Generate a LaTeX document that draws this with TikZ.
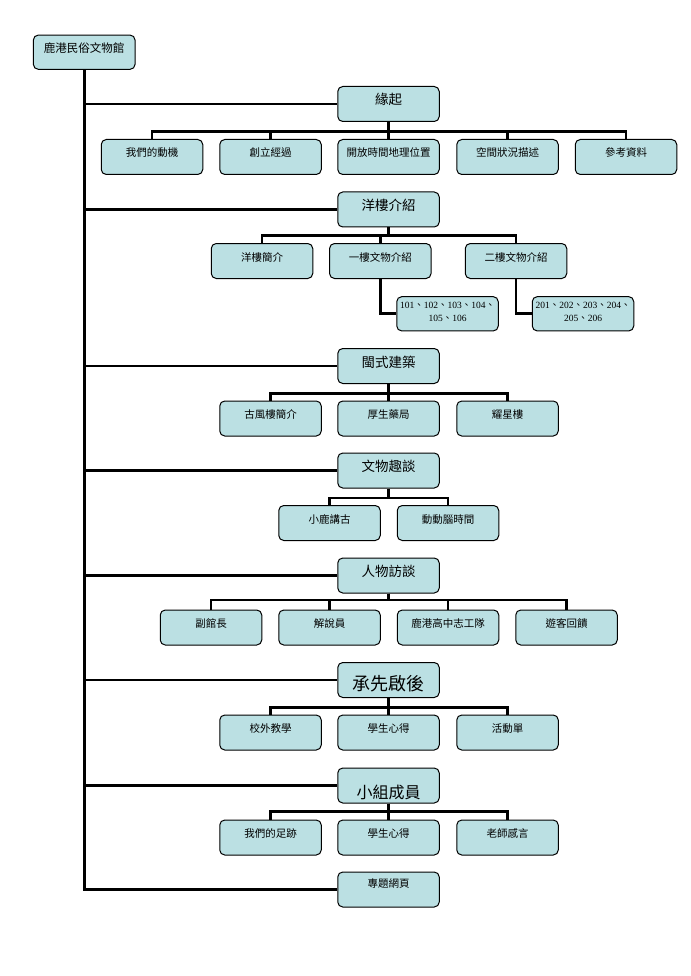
\documentclass[tikz,border=0pt]{standalone}
\usepackage{fontspec}
\setmainfont{Noto Sans CJK TC}
\newfontfamily\cjkfont{Noto Sans CJK TC}
\newfontfamily\serfont{Liberation Serif}
\definecolor{boxfill}{RGB}{187,224,227}
\tikzset{
  bx/.style={draw=black, fill=boxfill, rounded corners=5pt, line width=1pt, inner sep=0pt},
  conn/.style={line width=2.8pt, draw=black},
}
\newcommand{\cb}[1]{\parbox[c][35pt][t]{101.5pt}{\centering\fontsize{10.5}{12}\selectfont\rule{0pt}{17.5pt}#1}}
\newcommand{\pb}[1]{\parbox[c][35pt][t]{101.5pt}{\centering\fontsize{13.5}{15}\selectfont\rule{0pt}{18.5pt}#1}}
\newcommand{\dn}{{\cjkfont 、}}
\newcommand{\subbx}[1]{\parbox[c][34.3pt][t]{101.5pt}{\centering\serfont\fontsize{9.5}{13.3}\selectfont\rule{0pt}{11.5pt}#1}}
\begin{document}
\begin{tikzpicture}[x=1pt,y=-1pt]
\fill[white] (0,0) rectangle (690,976);
\useasboundingbox (0,0) rectangle (690,976);

% root
\node[bx] (root) at (84.2,52.2) {\parbox[c][34.3pt][t]{101.7pt}{\centering\fontsize{11.5}{13}\selectfont\rule{0pt}{17.7pt}鹿港民俗文物館}};

% parents
\node[bx] (p1) at (388.5,104) {\pb{緣起}};
\node[bx] (p2) at (388.5,209.5) {\pb{洋樓介紹}};
\node[bx] (p3) at (388.5,366) {\pb{閩式建築}};
\node[bx] (p4) at (388.5,470.5) {\pb{文物趣談}};
\node[bx] (p5) at (388.5,575.5) {\pb{人物訪談}};
\node[bx] (p6) at (388.5,680) {\parbox[c][35pt][t]{101.5pt}{\centering\fontsize{18}{20}\selectfont\rule{0pt}{28pt}承先啟後}};
\node[bx] (p7) at (388.5,785.5) {\parbox[c][35pt][t]{101.5pt}{\centering\fontsize{16}{18}\selectfont\rule{0pt}{30pt}小組成員}};
\node[bx] (p8) at (388.5,889.5) {\parbox[c][35pt][t]{101.5pt}{\centering\fontsize{10.5}{12}\selectfont\rule{0pt}{15pt}專題網頁}};

% row 1
\node[bx] (c11) at (152,157) {\cb{我們的動機}};
\node[bx] (c12) at (270.5,157) {\cb{創立經過}};
\node[bx] (c13) at (388.5,157) {\cb{開放時間地理位置}};
\node[bx] (c14) at (507.5,157) {\cb{空間狀況描述}};
\node[bx] (c15) at (626,157) {\cb{參考資料}};

% row 2
\node[bx] (c21) at (262,261) {\cb{洋樓簡介}};
\node[bx] (c22) at (380.3,261) {\cb{一樓文物介紹}};
\node[bx] (c23) at (516,261) {\cb{二樓文物介紹}};
\node[bx] (s1) at (447.5,313.8) {\subbx{101\dn102\dn103\dn104\dn\\105\dn106}};
\node[bx] (s2) at (583,313.8) {\subbx{201\dn202\dn203\dn204\dn\\205\dn206}};

% row 3
\node[bx] (c31) at (270.5,418.5) {\cb{古風樓簡介}};
\node[bx] (c32) at (388.5,418.5) {\cb{厚生藥局}};
\node[bx] (c33) at (507.5,418.5) {\cb{耀星樓}};

% row 4
\node[bx] (c41) at (329.5,523) {\cb{小鹿講古}};
\node[bx] (c42) at (448,523) {\cb{動動腦時間}};

% row 5
\node[bx] (c51) at (211,627.5) {\cb{副館長}};
\node[bx] (c52) at (329.5,627.5) {\cb{解說員}};
\node[bx] (c53) at (448,627.5) {\cb{鹿港高中志工隊}};
\node[bx] (c54) at (566.5,627.5) {\cb{遊客回饋}};

% row 6
\node[bx] (c61) at (270.5,732.5) {\cb{校外教學}};
\node[bx] (c62) at (388.5,732.5) {\cb{學生心得}};
\node[bx] (c63) at (507.5,732.5) {\cb{活動單}};

% row 7
\node[bx] (c71) at (270.5,837.5) {\cb{我們的足跡}};
\node[bx] (c72) at (388.5,837.5) {\cb{學生心得}};
\node[bx] (c73) at (507.5,837.5) {\cb{老師感言}};

% trunk and branches
\draw[conn] (root.south) |- (p8.west);
\foreach \p in {p1,p2,p3,p4,p5,p6,p7}
  \draw[conn] (root.south |- \p.west) -- (\p.west);

% children connectors
\foreach \c in {c11,c12,c13,c14,c15}
  \draw[conn] (p1.south) -- ++(0,9.2) -| (\c.north);
\foreach \c in {c21,c22,c23}
  \draw[conn] (p2.south) -- ++(0,7.7) -| (\c.north);
\draw[conn] (c22.south) |- (s1.west);
\draw[conn] (c23.south) |- (s2.west);
\foreach \c in {c31,c32,c33}
  \draw[conn] (p3.south) -- ++(0,9.4) -| (\c.north);
\foreach \c in {c41,c42}
  \draw[conn] (p4.south) -- ++(0,9.4) -| (\c.north);
\foreach \c in {c51,c52,c53,c54}
  \draw[conn] (p5.south) -- ++(0,6.5) -| (\c.north);
\foreach \c in {c61,c62,c63}
  \draw[conn] (p6.south) -- ++(0,9.3) -| (\c.north);
\foreach \c in {c71,c72,c73}
  \draw[conn] (p7.south) -- ++(0,8.3) -| (\c.north);
\end{tikzpicture}
\end{document}
